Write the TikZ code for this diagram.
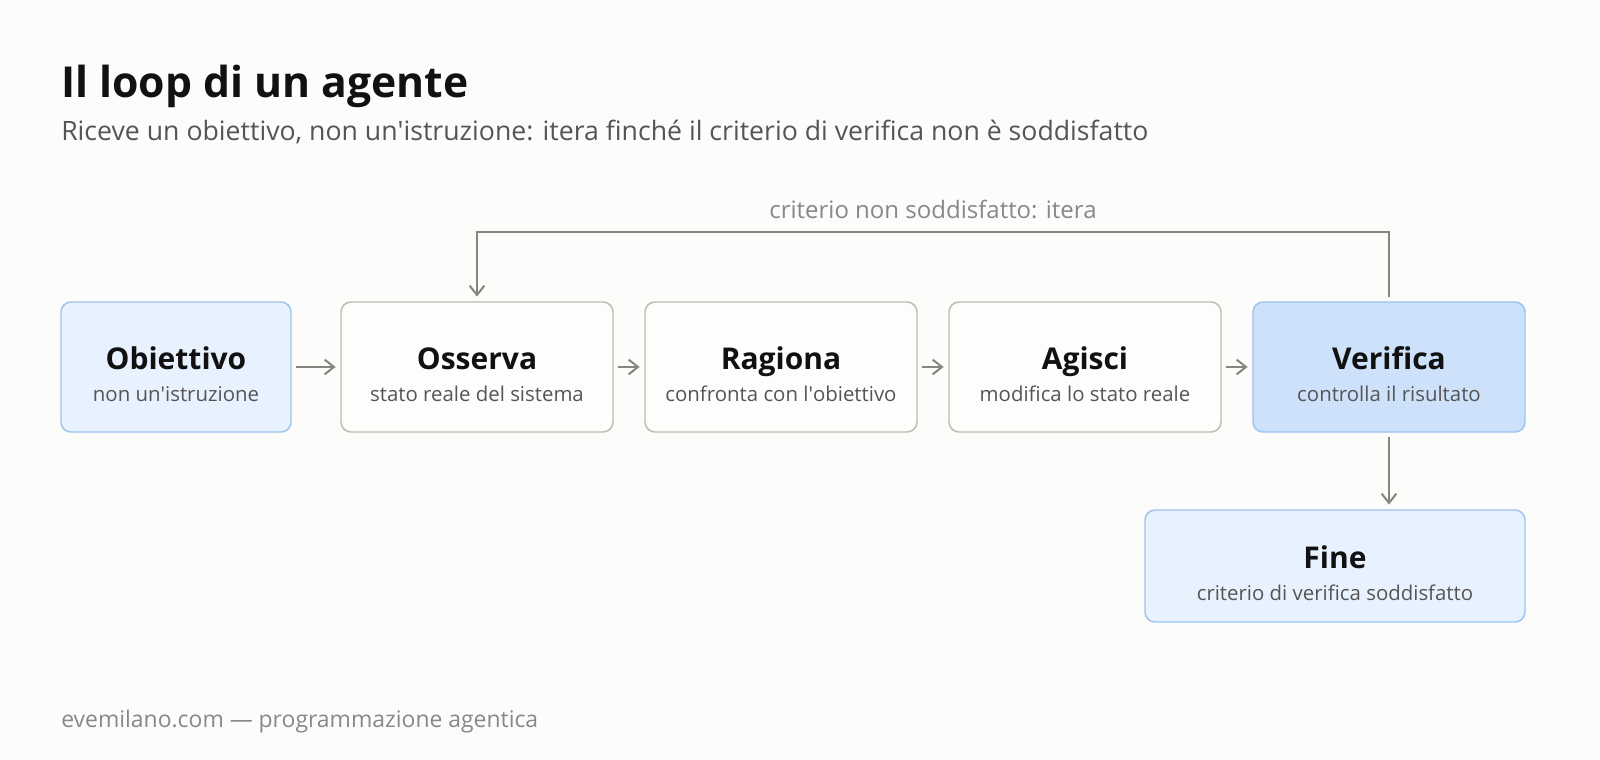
\documentclass[tikz,border=0pt]{standalone}
\usepackage{fontspec}
\setmainfont{Open Sans}
\IfFontExistsTF{Open Sans SemiBold}{\newfontfamily\semib{Open Sans SemiBold}}{\newcommand\semib{\bfseries}}
\usetikzlibrary{arrows.meta}

\definecolor{bgpage}{HTML}{FCFCFB}
\definecolor{ink}{HTML}{111111}
\definecolor{subink}{HTML}{555555}
\definecolor{softink}{HTML}{888888}
\definecolor{arrowgray}{HTML}{858580}
\definecolor{goalfill}{HTML}{E8F1FE}
\definecolor{goalline}{HTML}{9DC3F0}
\definecolor{checkfill}{HTML}{CDE2FA}
\definecolor{stagefill}{HTML}{FDFDFC}
\definecolor{stageline}{HTML}{BCBCB2}

\tikzset{
  card/.style={rectangle, rounded corners=7.5pt, line width=1.1pt, minimum height=97.5pt, inner sep=0pt},
  goal/.style={card, fill=goalfill, draw=goalline},
  stage/.style={card, fill=stagefill, draw=stageline, minimum width=204pt},
  check/.style={card, fill=checkfill, draw=goalline, minimum width=204pt},
  flow/.style={draw=arrowgray, line width=1.5pt, -{Straight Barb[length=7pt,width=11pt,line width=1.5pt]}, shorten <=3pt, shorten >=3.5pt},
  cardtitle/.style={anchor=base, inner sep=0pt, text=ink, font=\semib\fontsize{22.5}{27}\selectfont},
  cardsub/.style={anchor=base, inner sep=0pt, text=subink, font=\fontsize{15.3}{18}\selectfont},
}

% title and subtitle of one card
\newcommand{\cardtext}[3]{%
  \node[cardtitle] (#1-t) at ([yshift=1.5pt]#1.center) {#2};
  \node[cardsub] (#1-s) at ([yshift=25.5pt]#1.center) {#3};
}
\newcommand{\apo}{\textquotesingle}

\begin{document}
\begin{tikzpicture}[x=0.75pt,y=0.75pt,yscale=-1,xscale=1]
\path[fill=bgpage] (0,0) rectangle (1600,760);

% Text Node
\node[anchor=base west, inner sep=0pt, text=ink, font=\semib\fontsize{32}{36}\selectfont] (title) at (61,97) {Il loop di un agente};
% Text Node
\node[anchor=base west, inner sep=0pt, text=subink, font=\fontsize{20}{24}\selectfont] (subtitle) at (61,140) {Riceve un obiettivo, non un\apo istruzione: itera finché il criterio di verifica non è soddisfatto};

% Cards
\node[goal, minimum width=172.5pt] (obj) at (176,367) {};
\node[stage] (oss) at (477,367) {};
\node[stage] (rag) at (781,367) {};
\node[stage] (agi) at (1085,367) {};
\node[check] (ver) at (1389,367) {};
\node[goal, minimum width=285pt, minimum height=84pt] (fine) at (1335,566) {};

\cardtext{obj}{Obiettivo}{non un\apo istruzione}
\cardtext{oss}{Osserva}{stato reale del sistema}
\cardtext{rag}{Ragiona}{confronta con l\apo obiettivo}
\cardtext{agi}{Agisci}{modifica lo stato reale}
\cardtext{ver}{Verifica}{controlla il risultato}
\cardtext{fine}{Fine}{criterio di verifica soddisfatto}

% Arrows
\draw[flow] (obj) -- (oss);
\draw[flow] (oss) -- (rag);
\draw[flow] (rag) -- (agi);
\draw[flow] (agi) -- (ver);
\draw[flow] (ver.south) -- (ver.south |- fine.north);
\draw[flow] (ver.north) -- ++(0,-69) -| node[pos=0.25, anchor=base, yshift=10.5pt, inner sep=0pt, text=softink, font=\fontsize{18}{21}\selectfont] (loopl) {criterio non soddisfatto: itera} (oss.north);

% Text Node
\node[anchor=base west, inner sep=0pt, text=softink, font=\fontsize{17.2}{21}\selectfont] (footer) at (61,727) {evemilano.com — programmazione agentica};

\end{tikzpicture}
\end{document}
